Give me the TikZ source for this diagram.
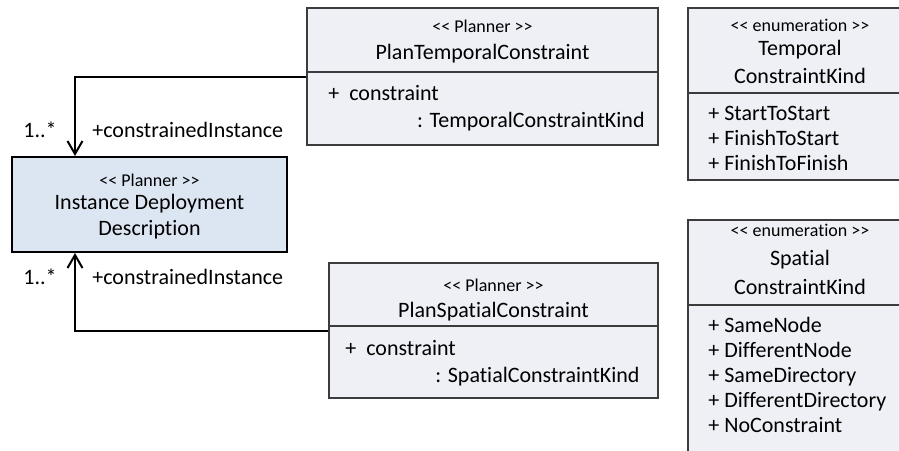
\documentclass[tikz,border=0pt]{standalone}
\usepackage{fontspec}
\newfontfamily\umlfont{Carlito}[Ligatures=NoCommon]
\usetikzlibrary{arrows.meta}
\definecolor{clsfill}{RGB}{238,240,246}
\definecolor{iddfill}{RGB}{220,230,242}
\definecolor{clsedge}{RGB}{60,60,60}
\begin{document}
\begin{tikzpicture}[x=0.5pt,y=-0.5pt]
    \tikzstyle{cls}=[draw=clsedge,line width=0.75pt,fill=clsfill,inner sep=0pt];
    \tikzstyle{clsline}=[draw=clsedge,line width=0.75pt];
    \tikzstyle{main}=[font=\umlfont\fontsize{11}{13}\selectfont,inner sep=0pt,text height=8.5pt,text depth=1.5pt];
    \tikzstyle{small}=[font=\umlfont\fontsize{9}{11}\selectfont,inner sep=0pt,text height=7pt,text depth=1pt];
    \tikzstyle{assoc}=[line width=1pt,-{Straight Barb[length=6.5pt,width=7.5pt]}];
    \useasboundingbox (0,0) rectangle (899,450);
    \clip (0,0) rectangle (899,450);
    %boxes
    \node[cls,fill=iddfill,draw=black,line width=1pt,minimum width=137.5pt,minimum height=47.5pt] (idd) at (149.5,204.5) {};
    \node[cls,minimum width=175.5pt,minimum height=68.5pt] (tpc) at (482.5,76.5) {};
    \node[cls,minimum width=164.5pt,minimum height=67.5pt] (spc) at (493.5,330.5) {};
    \node[cls,minimum width=112pt,minimum height=86pt] (tck) at (800,94) {};
    \node[cls,minimum width=112pt,minimum height=125pt] (sck) at (800,345) {};

    \draw[clsline] (tpc.west |- 0,72) -- (tpc.east |- 0,72)
    (spc.west |- 0,326) -- (spc.east |- 0,326)
    (tck.west |- 0,93) -- (tck.east |- 0,93)
    (sck.west |- 0,305) -- (sck.east |- 0,305);

    %instance
    \node[small] (iddst) at (149.5,180) {<< Planner >>};
    \node[main] (iddname) at (149.5,202) {Instance Deployment};
    \node[main] (idddesc) at (149.5,228) {Description};
    %temporal constraint
    \node[small] (tpcst) at (482.5,26) {<< Planner >>};
    \node[main] (tpcname) at (482.5,52) {PlanTemporalConstraint};
    \node[main,anchor=west] (tpcattr) at (328,93) {+\ \ constraint};
    \node[main,anchor=east] (tpctype) at (645,120) {: TemporalConstraintKind};
    %spatial constraint
    \node[small] (spcst) at (493.5,285) {<< Planner >>};
    \node[main] (spcname) at (493.5,310) {PlanSpatialConstraint};
    \node[main,anchor=west] (spcattr) at (345,348) {+\ \ constraint};
    \node[main,anchor=east] (spctype) at (640,375) {: SpatialConstraintKind};
    %temporal kind
    \node[small] (tckst) at (800,25) {<< enumeration >>};
    \node[main] (tckname) at (800,48) {Temporal};
    \node[main] (tckkind) at (800,76) {ConstraintKind};
    \node[main,anchor=west] (tcka) at (708,113) {+ StartToStart};
    \node[main,anchor=west] (tckb) at (708,138) {+ FinishToStart};
    \node[main,anchor=west] (tckc) at (708,163) {+ FinishToFinish};
    %spatial kind
    \node[small] (sckst) at (800,230) {<< enumeration >>};
    \node[main] (sckname) at (800,258) {Spatial};
    \node[main] (sckkind) at (800,287) {ConstraintKind};
    \node[main,anchor=west] (scka) at (708,325) {+ SameNode};
    \node[main,anchor=west] (sckb) at (708,350) {+ DifferentNode};
    \node[main,anchor=west] (sckc) at (708,375) {+ SameDirectory};
    \node[main,anchor=west] (sckd) at (708,400) {+ DifferentDirectory};
    \node[main,anchor=west] (scke) at (708,425) {+ NoConstraint};
    %ends
    \node[main] (tmult) at (40,130) {1..*};
    \node[main,anchor=west] (trole) at (92,130) {+constrainedInstance};
    \node[main] (smult) at (40,277) {1..*};
    \node[main,anchor=west] (srole) at (92,277) {+constrainedInstance};

    \draw[assoc] (tpc.west) -| ([xshift=32pt]idd.north west);
    \draw[assoc] (spc.west) -| ([xshift=32pt]idd.south west);
  \end{tikzpicture}
\end{document}
